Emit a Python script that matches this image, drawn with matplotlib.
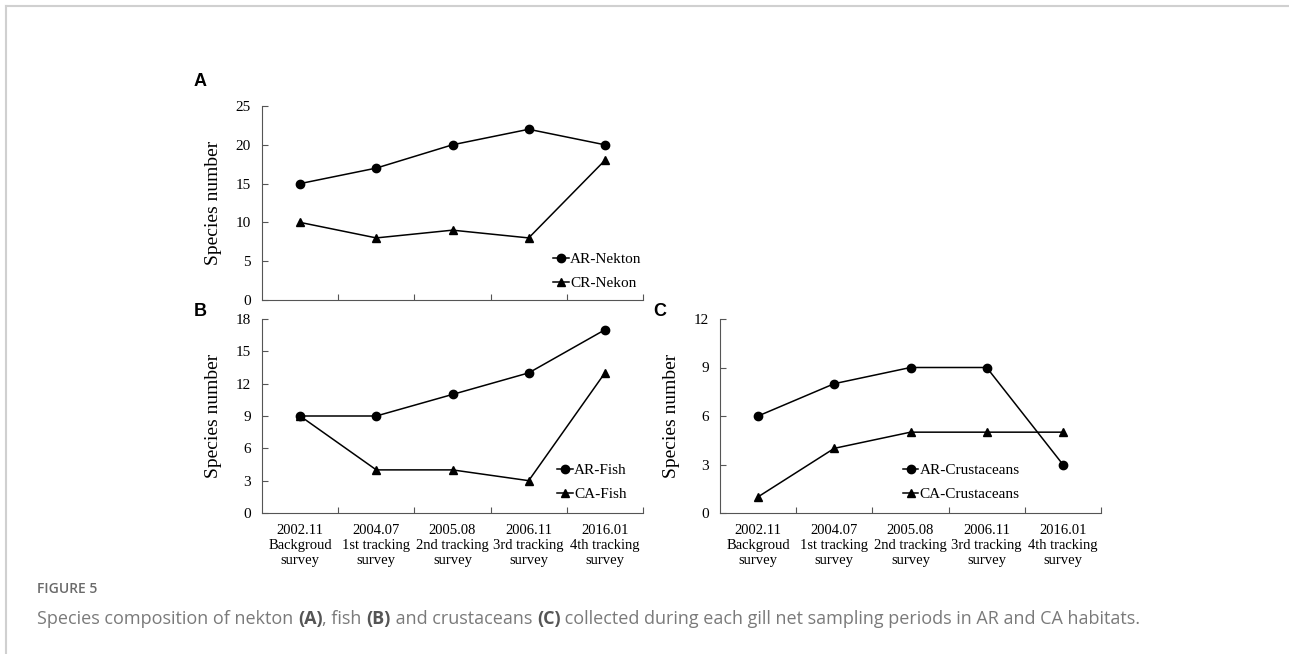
import matplotlib
matplotlib.use("Agg")
import matplotlib.pyplot as plt
from matplotlib.lines import Line2D
from matplotlib.ticker import FixedLocator, NullFormatter

# Sampling periods
periods = ["2002.11\nBackgroud\nsurvey", "2004.07\n1st tracking\nsurvey",
           "2005.08\n2nd tracking\nsurvey", "2006.11\n3rd tracking\nsurvey",
           "2016.01\n4th tracking\nsurvey"]

# Species numbers per period
ar_nekton = [15, 17, 20, 22, 20]
cr_nekon = [10, 8, 9, 8, 18]
ar_fish = [9, 9, 11, 13, 17]
ca_fish = [9, 4, 4, 3, 13]
ar_crust = [6, 8, 9, 9, 3]
ca_crust = [1, 4, 5, 5, 5]

serif = "Liberation Serif"
W, H = 1289, 654
fig = plt.figure(figsize=(W / 100, H / 100), dpi=100)


def fx(px):
    return px / W


def fy(py):
    return 1 - py / H


def panel(rect, s1, s2, lab1, lab2, ymax, ystep, show_labels, leg_pos):
    ax = fig.add_axes(rect)
    x = list(range(len(periods)))
    ax.plot(x, s1, color="black", lw=1.1, marker="o", ms=6, label=lab1)
    ax.plot(x, s2, color="black", lw=1.1, marker="^", ms=6, label=lab2)
    ax.set_xlim(-0.5, len(periods) - 0.5)
    ax.set_ylim(0, ymax)
    ax.set_yticks(range(0, ymax + 1, ystep))
    ax.set_xticks(x)
    if show_labels:
        ax.set_xticklabels(periods, fontfamily=serif, fontsize=10.5,
                           linespacing=1.2)
    else:
        ax.xaxis.set_major_formatter(NullFormatter())
    ax.xaxis.set_minor_locator(FixedLocator([i + 0.5 for i in x]))
    ax.tick_params(axis="x", which="major", length=0, pad=8)
    ax.tick_params(axis="x", which="minor", direction="in", length=4,
                   width=0.8, color="#555555")
    ax.tick_params(axis="y", direction="in", length=4, width=0.8,
                   color="#555555", labelsize=11, pad=8)
    for t in ax.get_yticklabels():
        t.set_fontfamily(serif)
    for side in ["top", "right"]:
        ax.spines[side].set_visible(False)
    for side in ["left", "bottom"]:
        ax.spines[side].set_color("#555555")
        ax.spines[side].set_linewidth(0.8)
    ax.set_ylabel("Species number", fontfamily=serif, fontsize=14,
                  labelpad=10)
    ax.legend(loc="lower left", bbox_to_anchor=leg_pos, frameon=False,
              prop={"family": serif, "size": 11}, handlelength=1.0,
              handletextpad=0.1, labelspacing=0.7, borderpad=0,
              borderaxespad=0)
    return ax


ax_a = panel([fx(262), fy(300), fx(643) - fx(262), fy(106) - fy(300)],
             ar_nekton, cr_nekon, "AR-Nekton", "CR-Nekon", 25, 5, False,
             (0.765, 0.05))
ax_b = panel([fx(262), fy(513), fx(643) - fx(262), fy(319) - fy(513)],
             ar_fish, ca_fish, "AR-Fish", "CA-Fish", 18, 3, True,
             (0.775, 0.06))
ax_c = panel([fx(720), fy(513), fx(1101) - fx(720), fy(319) - fy(513)],
             ar_crust, ca_crust, "AR-Crustaceans", "CA-Crustaceans", 12, 3,
             True, (0.48, 0.06))

# Panel letters
for letter, px, py in [("A", 200, 82), ("B", 200, 312), ("C", 660, 312)]:
    fig.text(fx(px), fy(py), letter, fontfamily="Liberation Sans",
             fontweight="bold", fontsize=13, ha="center", va="center")

# Page frame lines
fig.add_artist(Line2D([fx(6), 1], [fy(6), fy(6)], color="#d0d0d0", lw=1.5))
fig.add_artist(Line2D([fx(6), fx(6)], [0, fy(6)], color="#d0d0d0", lw=1.5))

# Caption
fig.text(fx(37), fy(589), "FIGURE 5", fontfamily="Open Sans", fontsize=10,
         fontweight="semibold", color="#6a6a6a", va="center")

parts = [("Species composition of nekton ", "normal"), ("(A)", "bold"),
         (", fish ", "normal"), ("(B)", "bold"),
         (" and crustaceans ", "normal"), ("(C)", "bold"),
         (" collected during each gill net sampling periods in AR and CA habitats.",
          "normal")]
fig.canvas.draw()
renderer = fig.canvas.get_renderer()
xpos = fx(37)
for txt, wt in parts:
    t = fig.text(xpos, fy(619), txt, fontfamily="Open Sans", fontsize=13,
                 fontweight=wt, color="#7a7a7a" if wt == "normal" else "#555555",
                 va="center")
    bb = t.get_window_extent(renderer=renderer)
    xpos += bb.width / W

fig.savefig("out.png", dpi=100)
